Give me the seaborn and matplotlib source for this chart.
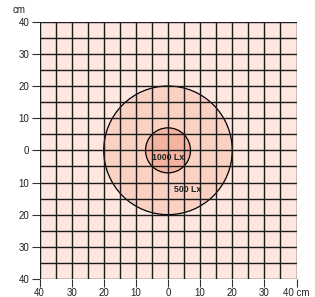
import matplotlib

matplotlib.use("Agg")

import matplotlib.pyplot as plt
from matplotlib.patches import Circle
import numpy as np
import seaborn as sns

# illuminance zones: radius in cm, label
zone_radii = [20, 7]
zone_labels = ["500 Lx", "1000 Lx"]
zone_label_pos = [(6, -12.3), (0, -2.3)]
zone_colors = ["#fad1c2", "#f6b39f"]

grid_step = 5
axis_ticks = [-40, -30, -20, -10, 0, 10, 20, 30, 40]
x_tick_labels = ["40", "30", "20", "10", "0", "10", "20", "30", "40 cm"]
y_tick_labels = ["40", "30", "20", "10", "0", "10", "20", "30", "40"]

sns.set_style("white")
plt.rcParams["font.family"] = ["Liberation Sans", "DejaVu Sans"]

fig = plt.figure(figsize=(3.15, 2.97), dpi=100)
ax = fig.add_axes([39.5 / 315, 1 - 279 / 297, 257 / 315, 257.3 / 297])
ax.set_facecolor("#fde7de")

for r, c in zip(zone_radii, zone_colors):
    ax.add_patch(Circle((0, 0), r, facecolor=c, edgecolor="black", lw=0.9, zorder=1))

grid = np.arange(-40, 41, grid_step)
for g in grid:
    ax.axvline(g, color="#1a1a1a", lw=1.0, zorder=2)
    ax.axhline(g, color="#1a1a1a", lw=1.0, zorder=2)

for lab, (x, y) in zip(zone_labels, zone_label_pos):
    ax.text(x, y, lab, ha="center", va="center", fontsize=6.3,
            fontweight="bold", color="#222222", zorder=3)

ax.set_xlim(-40, 40)
ax.set_ylim(-40, 40)
ax.set_xticks(axis_ticks)
ax.set_xticklabels(x_tick_labels)
ax.set_yticks(axis_ticks)
ax.set_yticklabels(y_tick_labels)
ax.tick_params(axis="both", bottom=True, left=True, length=5.5, width=0.8,
               color="#333333", labelsize=7, labelcolor="#222222",
               pad=2, direction="out")
ax.tick_params(axis="x", pad=1)
for s in ax.spines.values():
    s.set_visible(False)

fig.text(13 / 315, 1 - 10 / 297, "cm", fontsize=7, color="#222222",
         ha="left", va="center")

fig.savefig("out.png", dpi=100)
